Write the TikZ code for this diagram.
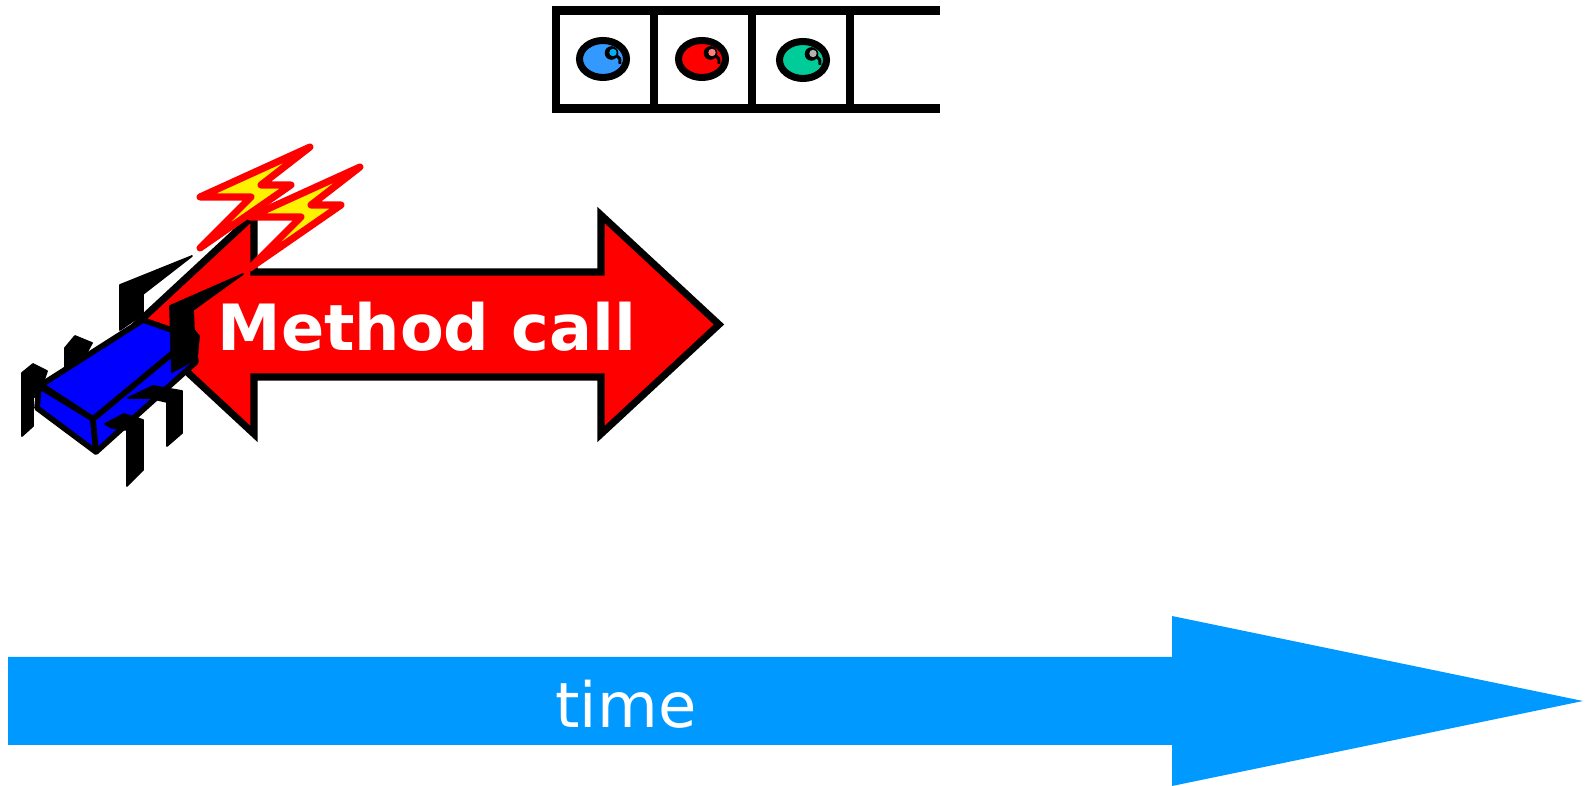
\documentclass[tikz,border=0pt]{standalone}
\usepackage{fontspec}
\setsansfont{DejaVu Sans}
\usepackage{tikz}
\usetikzlibrary{positioning}

\definecolor{timeblue}{RGB}{0,153,255}
\definecolor{ballblue}{RGB}{51,153,255}
\definecolor{ballgreen}{RGB}{0,204,153}
\definecolor{spotred}{RGB}{255,128,128}

\begin{document}
\begin{tikzpicture}[x=0.02cm, y=-0.02cm,
  ball/.style={draw=black, line width=4pt},
  bolt/.style={draw=red, fill=yellow, line width=4pt, line join=round},
  leg/.style={fill=black, draw=black, line width=1pt, line join=round},
  slab/.style={fill=blue, draw=black, line width=3.2pt, line join=round}]
\useasboundingbox (0,0) rectangle (1586,786);

% queue of waiting calls
\draw[line width=5.1pt] (940,10.5) -- (556,10.5) -- (556,108.5) -- (940,108.5);
\draw[line width=5.1pt] (654,10.5) -- (654,108.5);
\draw[line width=5.1pt] (752,10.5) -- (752,108.5);
\draw[line width=5.1pt] (850,10.5) -- (850,108.5);

\filldraw[ball, fill=ballblue] (603,59) ellipse (23.5 and 18.5);
\fill (611.5,53) circle (6.8);
\fill[cyan] (613,52.5) circle (3.7);
\draw[line width=1.7pt] (617,56) .. controls (620,58) .. (620,64);

\filldraw[ball, fill=red] (702,59) ellipse (23.5 and 18.5);
\fill (710.5,53) circle (6.8);
\fill[spotred] (712,52.5) circle (3.7);
\draw[line width=1.7pt] (716,56) .. controls (719,58) .. (719,64);

\filldraw[ball, fill=ballgreen] (803,60) ellipse (23.5 and 18.5);
\fill (811.5,54) circle (6.8);
\fill[gray!60] (813,53.5) circle (3.7);
\draw[line width=1.7pt] (817,57) .. controls (820,59) .. (820,65);

% the call
\filldraw[fill=red, line width=4pt, line join=miter]
  (136,324.5) -- (254,215) -- (254,272) -- (601,272) -- (601,215) -- (719,324.5)
  -- (601,434) -- (601,377) -- (254,377) -- (254,434) -- cycle;
\node[text=white, font=\sffamily\bfseries\fontsize{36.3}{40}\selectfont] (callLabel) at (427,327) {Method call};

% bug: legs behind the body
\filldraw[leg] (22,373) -- (33,364) -- (47,371) -- (40,392) -- (33,398) -- (33,426) -- (22,436) -- cycle;
\filldraw[leg] (65,348) -- (75,336) -- (92,343) -- (80,365) -- (65,370) -- cycle;
\filldraw[leg] (120,285) -- (192,256) -- (143,294) -- (143,314) -- (120,330) -- cycle;

% body
\filldraw[slab] (39,386) -- (93,419) -- (96,452) -- (37,408) -- cycle;
\filldraw[slab] (93,419) -- (192,337) -- (196,362) -- (96,452) -- cycle;
\filldraw[slab] (41,385) -- (143,320) -- (192,337) -- (93,419) -- cycle;

% legs in front and head
\filldraw[leg] (128,398) -- (153,386) -- (182,391) -- (182,433) -- (167,446) -- (167,402) -- (150,398) -- cycle;
\filldraw[leg] (105,424) -- (124,414) -- (143,420) -- (143,470) -- (127,486) -- (127,430) -- (112,428) -- cycle;
\filldraw[leg] (170,306) -- (243,274) -- (193,310) -- (194,330) -- (199,336) -- (197,358) -- (180,368) -- (172,372) -- cycle;

% sparks
\filldraw[bolt] (200,197) -- (310,147) -- (261,185) -- (291,185) -- (200,248) -- (251,197) -- cycle;
\filldraw[bolt] (250,217) -- (360,167) -- (311,205) -- (341,205) -- (250,268) -- (301,217) -- cycle;

% time line
\fill[timeblue] (8,657) -- (1172,657) -- (1172,616) -- (1583,701) -- (1172,786) -- (1172,745) -- (8,745) -- cycle;
\node[text=white, font=\sffamily\fontsize{35.5}{38}\selectfont] (timeLabel) at (626,704) {time};

\end{tikzpicture}
\end{document}
